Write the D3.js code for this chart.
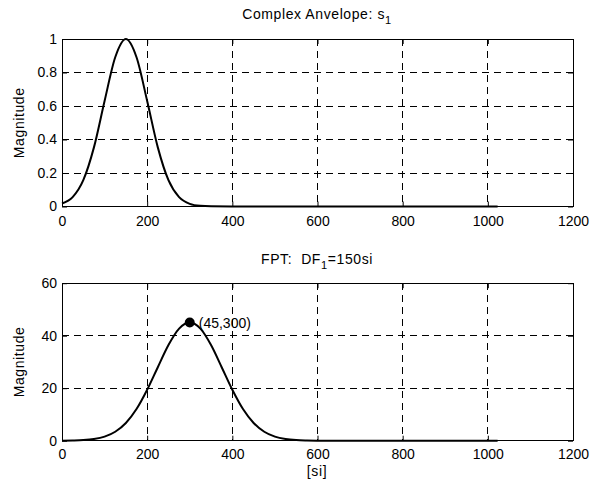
<!DOCTYPE html>
<html><head><meta charset="utf-8">
<script src="https://cdn.jsdelivr.net/npm/d3@7"></script>
<style>
body{margin:0;background:#fff;}
text{font-family:"Liberation Sans",Arial,sans-serif;fill:#000;}
</style></head>
<body><svg id="c" width="590" height="485"></svg>
<script>
// ---- data ----
const topX = [0,25,50,75,100,125,150,175,200,225,250,275,300,325,350,400,1023];
const topY = [0.018,0.056,0.157,0.353,0.630,0.891,1.0,0.891,0.630,0.353,0.157,0.056,0.016,0.004,0.001,0,0];
const botX = [0,25,50,75,100,125,150,175,200,225,250,275,300,325,350,375,400,425,450,475,500,525,550,575,600,625,1023];
const botY = [0.02,0.08,0.23,0.63,1.54,3.4,6.75,12.05,19.4,28.0,36.45,42.7,45,42.7,36.45,28.0,19.4,12.05,6.75,3.4,1.54,0.63,0.23,0.08,0.02,0,0];
const xTicks = [0,200,400,600,800,1000,1200];
const topYTicks = [0,0.2,0.4,0.6,0.8,1];
const botYTicks = [0,20,40,60];
const peak = {x:300, y:45, label:"(45,300)"};

const svg = d3.select("#c");
const L = 62, R = 573;
const FS = "14px";

function panel(top, bottom, yDomain, yTicks, xs, ys, fmt, xPad) {
  const x = d3.scaleLinear().domain([0,1200]).range([L,R]);
  const y = d3.scaleLinear().domain(yDomain).range([bottom,top]);
  const g = svg.append("g");
  // grid
  g.selectAll(".vg").data(xTicks.slice(1,-1)).enter().append("line")
    .attr("x1",d=>x(d)).attr("x2",d=>x(d)).attr("y1",top).attr("y2",bottom)
    .attr("stroke","#000").attr("stroke-width",1).attr("stroke-dasharray","7,5").attr("shape-rendering","crispEdges");
  g.selectAll(".hg").data(yTicks.slice(1,-1)).enter().append("line")
    .attr("x1",L).attr("x2",R).attr("y1",d=>y(d)).attr("y2",d=>y(d))
    .attr("stroke","#000").attr("stroke-width",1).attr("stroke-dasharray","7,5").attr("shape-rendering","crispEdges");
  // axes with inward ticks
  const ax = g.append("g").attr("transform",`translate(0,${bottom})`)
    .call(d3.axisBottom(x).tickValues(xTicks).tickSizeInner(-5).tickSizeOuter(0).tickPadding(xPad).tickFormat(d3.format("d")));
  const axT = g.append("g").attr("transform",`translate(0,${top})`)
    .call(d3.axisTop(x).tickValues(xTicks).tickSizeInner(-5).tickSizeOuter(0).tickFormat(""));
  const ay = g.append("g").attr("transform",`translate(${L},0)`)
    .call(d3.axisLeft(y).tickValues(yTicks).tickSizeInner(-5).tickSizeOuter(0).tickPadding(5).tickFormat(fmt));
  const ayR = g.append("g").attr("transform",`translate(${R},0)`)
    .call(d3.axisRight(y).tickValues(yTicks).tickSizeInner(-5).tickSizeOuter(0).tickFormat(""));
  [ax,axT,ay,ayR].forEach(a=>{
    a.selectAll("text").style("font-size",FS).attr("font-family",null);
    a.select(".domain").remove();
    a.selectAll("line").attr("stroke","#000");
  });
  g.append("rect").attr("x",L).attr("y",top).attr("width",R-L).attr("height",bottom-top)
    .attr("fill","none").attr("stroke","#000").attr("stroke-width",1).attr("shape-rendering","crispEdges");
  // curve
  const line = d3.line().x((d,i)=>x(xs[i])).y(d=>y(d)).curve(d3.curveMonotoneX);
  g.append("path").datum(ys).attr("d",line).attr("fill","none").attr("stroke","#000").attr("stroke-width",2);
  // y label
  g.append("text").attr("transform",`translate(24,${(top+bottom)/2}) rotate(-90)`)
    .attr("text-anchor","middle").style("font-size",FS).style("letter-spacing","0.6px").text("Magnitude");
  return {x,y,g};
}

const p1 = panel(39, 206.5, [0,1], topYTicks, topX, topY, d=>d===0||d===1?String(d):d3.format(".1f")(d), 10);
const p2 = panel(283.2, 440.7, [0,60], botYTicks, botX, botY, d3.format("d"), 8.5);

// titles
const t1 = svg.append("text").attr("x",317).attr("y",19).attr("text-anchor","middle")
  .style("font-size",FS).style("letter-spacing","0.6px");
t1.append("tspan").text("Complex Anvelope: s");
t1.append("tspan").attr("dy",5).style("font-size","11px").text("1");

const t2 = svg.append("text").attr("x",317).attr("y",264).attr("text-anchor","middle")
  .style("font-size",FS).style("letter-spacing","0.6px");
t2.append("tspan").text("FPT:\u00a0\u00a0DF");
t2.append("tspan").attr("dy",5).style("font-size","11px").text("1");
t2.append("tspan").attr("dy",-5).text("=150si");

svg.append("text").attr("x",317).attr("y",475.5).attr("text-anchor","middle")
  .style("font-size",FS).style("letter-spacing","0.6px").text("[si]");

// peak marker
p2.g.append("circle").attr("cx",p2.x(peak.x)).attr("cy",p2.y(peak.y)).attr("r",5).attr("fill","#000");
p2.g.append("text").attr("x",p2.x(peak.x)+9).attr("y",p2.y(peak.y)+5)
  .style("font-size",FS).text(peak.label);
</script></body></html>
